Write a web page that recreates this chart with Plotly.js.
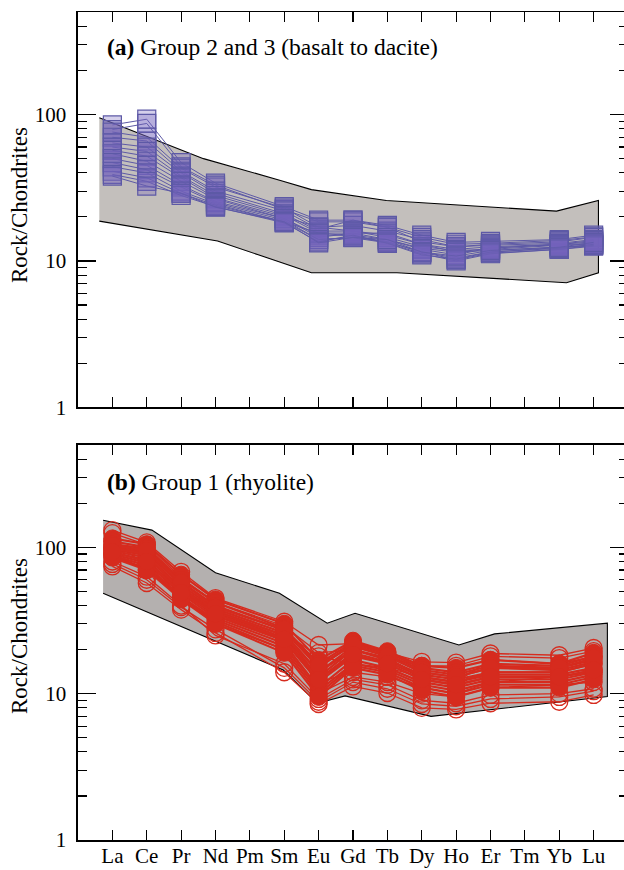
<!DOCTYPE html>
<html>
<head>
<meta charset="utf-8">
<script src="https://cdn.plot.ly/plotly-3.0.1.min.js"></script>
<style>
  html, body { margin: 0; padding: 0; overflow: hidden; background: #fff; }
  #chart { width: 628px; height: 870px; }
</style>
</head>
<body>
<div id="chart"></div>
<script>
// Rare earth elements, chondrite-normalised (Pm and Tm not analysed)
const elements = ['La', 'Ce', 'Pr', 'Nd', 'Pm', 'Sm', 'Eu', 'Gd', 'Tb', 'Dy', 'Ho', 'Er', 'Tm', 'Yb', 'Lu'];
const yTickVals = [1, 10, 100];
const yTickText = ['1', '10', '100'];

// Group 2 and 3 samples (basalt to dacite)
const group23 = [
  [85, 93, 47, 34, null, 23.5, 19.0, 19.0, 17.5, 15.0, 13.4, 13.6, null, 14.0, 15.0],
  [79, 87, 44, 33, null, 22.5, 18.5, 18.5, 17.0, 14.5, 13.0, 13.2, null, 13.8, 14.6],
  [76, 70, 43, 32, null, 23.0, 17.0, 17.5, 16.0, 14.0, 12.5, 13.0, null, 13.5, 14.5],
  [70, 66, 41, 30, null, 22.0, 16.5, 19.0, 17.0, 13.5, 12.5, 12.8, null, 13.2, 14.0],
  [64, 60, 40, 29, null, 21.0, 16.0, 16.0, 15.0, 13.0, 12.0, 12.5, null, 13.0, 13.5],
  [60, 56, 38, 28, null, 20.5, 15.5, 15.5, 15.5, 13.0, 11.5, 12.2, null, 13.0, 13.8],
  [57, 52, 37, 27, null, 20.0, 17.0, 16.0, 14.5, 12.5, 11.8, 12.0, null, 12.8, 13.0],
  [54, 48, 35, 26.5, null, 19.5, 15.0, 15.0, 14.0, 12.0, 11.0, 12.3, null, 12.8, 13.2],
  [50, 45, 33, 25.5, null, 19.5, 14.5, 15.5, 14.0, 12.2, 11.5, 11.8, null, 12.5, 12.8],
  [47, 42, 32, 25, null, 19.0, 14.0, 14.5, 13.5, 11.5, 10.5, 11.5, null, 12.3, 12.8],
  [44, 40, 30, 24.5, null, 18.5, 15.5, 14.8, 13.5, 11.5, 10.2, 11.3, null, 12.0, 12.6],
  [41, 37, 29, 24, null, 18.5, 14.0, 14.4, 13.3, 11.2, 10.0, 11.2, null, 12.0, 12.8],
  [39, 35, 28, 23.5, null, 18.2, 13.5, 15.0, 13.2, 11.0, 10.3, 11.5, null, 12.2, 13.0],
  [38, 32.5, 29, 23.3, null, 18.5, 13.3, 14.5, 14.0, 11.5, 10.8, 11.8, null, 12.4, 13.4]
];

// Group 1 samples (rhyolite), drawn with open circles
const group1Open = [
  [131, 108, 68, 45, null, 31, 21.5, 22, 19, 16.5, 16.3, 18.8, null, 18.3, 20.5],
  [125, 104, 62, 42, null, 29, 19, 20, 17.5, 15.5, 15.5, 18, null, 17.5, 19.5],
  [74, 57, 37.5, 26, null, 14, 8.5, 11.2, 10.1, 8.0, 7.8, 8.6, null, 8.8, 9.8],
  [77, 60, 39, 27.5, null, 15, 8.8, 12, 10.8, 8.5, 8.2, 9.2, null, 9.5, 10.4],
  [80, 63, 40, 25, null, 16, 9.2, 12.5, 11.5, 9.0, 8.6, 9.8, null, 10, 10.8],
  [100, 95, 55, 38, null, 26, 18, 16, 15, 13, 12, 17, null, 16, 18],
  [90, 70, 50, 35, null, 23, 12, 14, 13, 11, 10, 12, null, 13, 14],
  [110, 75, 45, 30, null, 20, 10, 13, 12, 10, 9.5, 11, null, 11.5, 12]
];

// Group 1 samples (rhyolite), drawn with filled circles
const group1Filled = [
  [115, 105, 65, 44, null, 30, 17, 23, 19.5, 15.5, 15, 17, null, 16, 19],
  [110, 100, 60, 42, null, 28, 16, 22.5, 19, 15, 14, 16, null, 15.5, 18],
  [105, 98, 58, 40, null, 27, 15, 22, 18.5, 14.5, 13.5, 15.5, null, 15, 17],
  [100, 92, 55, 38, null, 26, 14, 21, 18, 14, 13, 15, null, 14.5, 16.5],
  [97, 88, 53, 37, null, 25, 13, 20, 17, 13.5, 12.5, 14, null, 14, 16],
  [95, 85, 52, 36, null, 24, 12.5, 19, 16.5, 13, 12, 13.5, null, 13.5, 15],
  [92, 82, 50, 34, null, 23, 12, 18, 16, 12.5, 11.5, 13, null, 13, 14.5],
  [90, 78, 48, 33, null, 22, 11, 17, 15, 12, 11, 12.5, null, 12.5, 14],
  [88, 75, 46, 32, null, 21, 10.5, 16, 14.5, 11.5, 10.5, 12, null, 12, 13.5],
  [86, 72, 45, 31, null, 20, 10, 15.5, 14, 11, 10, 11.5, null, 11.5, 13],
  [85, 70, 44, 30, null, 19, 9.5, 15, 13.5, 10.5, 9.5, 11, null, 11, 12.5],
  [98, 90, 50, 36, null, 25, 14, 20, 17.5, 13, 12, 14, null, 14, 16],
  [103, 95, 57, 39, null, 27.5, 15.5, 21.5, 18, 14, 13, 15, null, 15, 17.5],
  [93, 80, 49, 35, null, 23.5, 12.5, 18.5, 16, 12.5, 11.5, 13, null, 13, 14.5]
];

// Reference fields (outline polygons, x in element positions)
const fieldAX = [-0.38, 1.40, 2.65, 4.89, 5.79, 7.97, 12.92, 14.14, 14.14, 13.21, 8.28, 5.79, 3.06, -0.38];
const fieldAY = [95, 65, 50, 35.5, 30.7, 25.9, 21.9, 25.9, 8.3, 7.1, 8.3, 8.3, 13.7, 18.7];
const fieldBX = [-0.27, 1.15, 3.0, 4.86, 6.25, 7.06, 10.08, 11.12, 14.4, 14.4, 9.27, 6.77, 5.96, 4.97, -0.27];
const fieldBY = [153, 131, 67, 48.5, 30.3, 35.4, 21.5, 25.6, 30.3, 9.55, 7.0, 9.66, 8.6, 14.5, 48.5];

const idx = elements.map((_, i) => i);
const purpleLine = '#5d59a6';
const red = '#d62b1e';

const traces = [];

traces.push({
  x: fieldAX, y: fieldAY, xaxis: 'x', yaxis: 'y',
  type: 'scatter', mode: 'lines', fill: 'toself',
  fillcolor: '#c3bfbc', line: { color: '#000', width: 1.1 },
  hoverinfo: 'skip', showlegend: false
});
group23.forEach(row => traces.push({
  x: idx, y: row, xaxis: 'x', yaxis: 'y',
  type: 'scatter', mode: 'lines+markers', connectgaps: true,
  line: { color: purpleLine, width: 1 },
  marker: { symbol: 'square', size: 18, color: 'rgba(115,100,190,0.3)',
            line: { color: purpleLine, width: 1.2 } },
  showlegend: false
}));

traces.push({
  x: fieldBX, y: fieldBY, xaxis: 'x2', yaxis: 'y2',
  type: 'scatter', mode: 'lines', fill: 'toself',
  fillcolor: '#b4b0af', line: { color: '#000', width: 1.1 },
  hoverinfo: 'skip', showlegend: false
});
group1Open.forEach(row => traces.push({
  x: idx, y: row, xaxis: 'x2', yaxis: 'y2',
  type: 'scatter', mode: 'lines+markers', connectgaps: true,
  line: { color: red, width: 1.3 },
  marker: { symbol: 'circle-open', size: 17, color: red, line: { color: red, width: 1.3 } },
  showlegend: false
}));
group1Filled.forEach(row => traces.push({
  x: idx, y: row, xaxis: 'x2', yaxis: 'y2',
  type: 'scatter', mode: 'lines+markers', connectgaps: true,
  line: { color: red, width: 2.2 },
  marker: { symbol: 'circle', size: 17, color: red, line: { color: red, width: 1 } },
  showlegend: false
}));

const serif = 'Liberation Serif, Times New Roman, serif';

function xAxis(anchor, labels) {
  return {
    anchor: anchor, range: [-1, 15], tickmode: 'array', tickvals: idx,
    ticktext: elements, showticklabels: labels,
    ticks: 'inside', ticklen: 10, tickwidth: 1.2, tickcolor: '#000',
    ticklabelstandoff: -4,
    showline: true, linecolor: '#000', linewidth: 1.6, mirror: 'allticks',
    showgrid: false, zeroline: false, fixedrange: true,
    tickfont: { family: serif, size: 21, color: '#000' }
  };
}
function yAxis(anchor, domain) {
  return {
    anchor: anchor, domain: domain, type: 'log', range: [0, Math.log10(500)],
    tickmode: 'array', tickvals: yTickVals, ticktext: yTickText,
    ticks: 'inside', ticklen: 18, tickwidth: 1.2, tickcolor: '#000',
    ticklabelstandoff: 6,
    minor: { tickmode: 'array', tickvals: [2,3,4,5,6,7,8,9,20,30,40,50,60,70,80,90,200,300,400],
             ticks: 'inside', ticklen: 9, tickwidth: 1.2, tickcolor: '#000', showgrid: false },
    showline: true, linecolor: '#000', linewidth: 1.6, mirror: 'allticks',
    showgrid: false, zeroline: false, fixedrange: true,
    tickfont: { family: serif, size: 21, color: '#000' }
  };
}

const layout = {
  width: 628, height: 870,
  margin: { l: 78, r: 0, t: 0, b: 0, pad: 0 },
  paper_bgcolor: '#fff', plot_bgcolor: '#fff',
  showlegend: false,
  xaxis: xAxis('y', false),
  yaxis: yAxis('x', [1 - 407.3 / 870, 1 - 12.3 / 870]),
  xaxis2: xAxis('y2', true),
  yaxis2: yAxis('x2', [1 - 840 / 870, 1 - 445 / 870]),
  annotations: [
    { text: '<b>(a)</b> Group 2 and 3 (basalt to dacite)', xref: 'paper', yref: 'paper',
      x: (105 - 78) / 550, y: 1 - 47 / 870, xanchor: 'left', yanchor: 'middle', showarrow: false,
      font: { family: serif, size: 23.5, color: '#000' } },
    { text: '<b>(b)</b> Group 1 (rhyolite)', xref: 'paper', yref: 'paper',
      x: (105 - 78) / 550, y: 1 - 482 / 870, xanchor: 'left', yanchor: 'middle', showarrow: false,
      font: { family: serif, size: 23.5, color: '#000' } },
    { text: 'Rock/Chondrites', xref: 'paper', yref: 'paper', textangle: -90,
      x: (19 - 78) / 550, y: 1 - 205 / 870, xanchor: 'center', yanchor: 'middle', showarrow: false,
      font: { family: serif, size: 23, color: '#000' } },
    { text: 'Rock/Chondrites', xref: 'paper', yref: 'paper', textangle: -90,
      x: (19 - 78) / 550, y: 1 - 636 / 870, xanchor: 'center', yanchor: 'middle', showarrow: false,
      font: { family: serif, size: 23, color: '#000' } }
  ]
};

Plotly.newPlot('chart', traces, layout, { displayModeBar: false, staticPlot: true });
</script>
</body>
</html>
